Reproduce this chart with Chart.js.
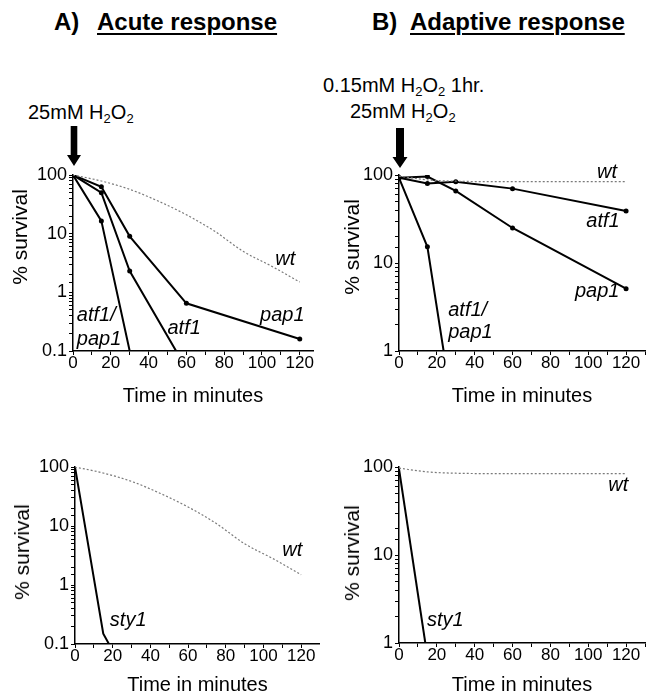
<!DOCTYPE html>
<html>
<head>
<meta charset="utf-8">
<script src="https://cdn.jsdelivr.net/npm/chart.js@4.4.1/dist/chart.umd.min.js"></script>
<style>
  body { margin: 0; background: #fff; font-family: "Liberation Sans", Arial, sans-serif; color: #000; }
  #page { position: relative; width: 647px; height: 698px; overflow: hidden; }
  canvas { position: absolute; }
  .txt { position: absolute; white-space: pre; }
  .ttl { font-weight: bold; font-size: 24px; line-height: 28px; }
  .ttl u { text-underline-offset: 3px; text-decoration-thickness: 2px; }
  .note { font-size: 20px; line-height: 24px; }
  .note sub { font-size: 13px; vertical-align: -4px; line-height: 0; }
  .ylab { font-size: 21px; line-height: 24px; transform: translate(-50%, -50%) rotate(-90deg); }
  svg { position: absolute; }
</style>
</head>
<body>
<div id="page">
  <canvas id="acuteTop" width="320" height="255" style="left:0;top:160px"></canvas>
  <canvas id="adaptTop" width="327" height="255" style="left:320px;top:160px"></canvas>
  <canvas id="acuteBottom" width="320" height="246" style="left:0;top:452px"></canvas>
  <canvas id="adaptBottom" width="327" height="246" style="left:320px;top:452px"></canvas>

  <div class="txt ttl" style="left:54px;top:8px">A)</div>
  <div class="txt ttl" style="left:97px;top:8px"><u>Acute response</u></div>
  <div class="txt ttl" style="left:372px;top:8px">B)</div>
  <div class="txt ttl" style="left:410px;top:8px"><u>Adaptive response</u></div>

  <div class="txt note" style="left:28px;top:100px">25mM H<sub>2</sub>O<sub>2</sub></div>
  <div class="txt note" style="left:323px;top:73px">0.15mM H<sub>2</sub>O<sub>2</sub> 1hr.</div>
  <div class="txt note" style="left:350px;top:99px">25mM H<sub>2</sub>O<sub>2</sub></div>

  <svg width="20" height="42" style="left:64px;top:126px"><path d="M6.7 0 H13.3 V29 H17 L10 40 L3 29 H6.7 Z" fill="#000"/></svg>
  <svg width="20" height="42" style="left:390px;top:128px"><path d="M6 0 H14 V29 H17.5 L10 40 L2.5 29 H6 Z" fill="#000"/></svg>

  <div class="txt ylab" style="left:20px;top:237px">% survival</div>
  <div class="txt ylab" style="left:352px;top:247px">% survival</div>
  <div class="txt ylab" style="left:22px;top:552px">% survival</div>
  <div class="txt ylab" style="left:352px;top:553px">% survival</div>
</div>
<script>
// tick labels
const timeTicks = [0, 20, 40, 60, 80, 100, 120];
const survivalTicksAcute = [0.1, 1, 10, 100];
const survivalTicksAdaptive = [1, 10, 100];

// A) acute response, % survival
const wtTimes = [0, 15, 30, 45, 60, 75, 90, 105, 120];
const wtAcute = [100, 79, 57, 36, 21, 11, 5, 2.8, 1.5];
const pap1AcuteTimes = [0, 15, 30, 60, 120];
const pap1Acute = [100, 63, 9, 0.65, 0.16];
const atf1AcuteTimes = [0, 15, 30, 60];
const atf1Acute = [100, 50, 2.3, 0.05];
const atf1pap1AcuteTimes = [0, 15, 30];
const atf1pap1Acute = [100, 16.5, 0.1];
const sty1AcuteTimes = [0, 15, 30];
const sty1Acute = [100, 0.15, 0.02];

// B) adaptive response, % survival
const adaptTimes = [0, 15, 30, 60, 120];
const pap1Adaptive = [93, 96, 66, 25, 5.1];
const atf1Adaptive = [93, 80, 84, 70, 39];
const atf1pap1AdaptiveTimes = [0, 15, 30];
const atf1pap1Adaptive = [93, 15.3, 0.13];
const wtAdaptiveTimes = [0, 15, 30, 60, 90, 120];
const wtAdaptive = [97, 88, 85, 84, 84, 84];
const sty1AdaptiveTimes = [0, 15];
const sty1Adaptive = [95, 0.7];

const FONT = '"Liberation Sans", Arial, sans-serif';

// italic strain names next to the curves
const curveLabels = {
  id: 'curveLabels',
  afterDatasetsDraw(chart, args, opts) {
    const { ctx, scales: { x, y } } = chart;
    ctx.save();
    ctx.font = 'italic 20px ' + FONT;
    ctx.fillStyle = '#000';
    ctx.textAlign = 'left';
    ctx.textBaseline = 'middle';
    (opts.items || []).forEach(it => {
      ctx.fillText(it.text, x.getPixelForValue(it.x), y.getPixelForValue(it.y));
    });
    ctx.restore();
  }
};

function series(times, values, dots) {
  return {
    data: times.map((t, i) => ({ x: t, y: values[i] })),
    borderColor: '#000',
    borderWidth: 2,
    backgroundColor: '#000',
    pointBorderWidth: 0,
    pointRadius: ctx => (dots && ctx.raw && ctx.raw.y > ctx.chart.scales.y.min) ? 2.5 : 0,
    tension: 0
  };
}

function wtSeries(times, values) {
  return {
    data: times.map((t, i) => ({ x: t, y: values[i] })),
    borderColor: '#7a7a7a',
    borderWidth: 1.2,
    borderDash: [2, 2],
    pointRadius: 0,
    cubicInterpolationMode: 'monotone'
  };
}

function isTick(list, v) {
  return list.some(t => Math.abs(v - t) < t * 1e-6);
}

function makePanel(id, p) {
  return new Chart(document.getElementById(id), {
    type: 'line',
    data: { datasets: p.datasets },
    options: {
      responsive: false,
      animation: false,
      events: [],
      layout: { padding: p.padding },
      plugins: {
        legend: { display: false },
        tooltip: { enabled: false },
        curveLabels: { items: p.labels }
      },
      scales: {
        x: {
          type: 'linear',
          min: 0,
          max: p.xMax,
          border: { color: '#000', width: 1.5 },
          grid: { drawOnChartArea: false, tickLength: 4, color: '#000', lineWidth: 1 },
          ticks: {
            stepSize: 10,
            includeBounds: false,
            autoSkip: false,
            maxRotation: 0,
            padding: 0,
            color: '#000',
            font: { family: FONT, size: 17, lineHeight: 1 },
            callback: v => isTick(timeTicks, v) || v === 0 ? String(v) : ''
          },
          title: {
            display: true,
            text: 'Time in minutes',
            color: '#000',
            font: { family: FONT, size: 20 },
            padding: { top: 0, bottom: p.titlePad }
          },
          afterFit: s => { s.height = p.xHeight; }
        },
        y: {
          type: 'logarithmic',
          min: p.yTicks[0],
          max: 100,
          border: { color: '#000', width: 1.5 },
          grid: { drawOnChartArea: false, tickLength: 4, color: '#000', lineWidth: 1 },
          ticks: {
            autoSkip: false,
            padding: 2,
            color: '#000',
            font: { family: FONT, size: 18 },
            callback: v => isTick(p.yTicks, v) ? String(v) : ''
          },
          afterFit: s => { s.width = p.yWidth; }
        }
      }
    },
    plugins: [curveLabels]
  });
}

makePanel('acuteTop', {
  xMax: 127, yTicks: survivalTicksAcute, yWidth: 73, xHeight: 64, titlePad: 7,
  padding: { top: 15, right: 7, left: 0, bottom: 0 },
  datasets: [
    wtSeries(wtTimes, wtAcute),
    series(pap1AcuteTimes, pap1Acute, true),
    series(atf1AcuteTimes, atf1Acute, true),
    series(atf1pap1AcuteTimes, atf1pap1Acute, true)
  ],
  labels: [
    { text: 'wt', x: 107, y: 3.6 },
    { text: 'pap1', x: 99, y: 0.4 },
    { text: 'atf1', x: 50, y: 0.24 },
    { text: 'atf1/', x: 2, y: 0.41 },
    { text: 'pap1', x: 2, y: 0.16 }
  ]
});

makePanel('adaptTop', {
  xMax: 130, yTicks: survivalTicksAdaptive, yWidth: 79, xHeight: 64, titlePad: 7,
  padding: { top: 15, right: 2, left: 0, bottom: 0 },
  datasets: [
    wtSeries(wtAdaptiveTimes, wtAdaptive),
    series(adaptTimes, pap1Adaptive, true),
    series(adaptTimes, atf1Adaptive, true),
    series(atf1pap1AdaptiveTimes, atf1pap1Adaptive, true)
  ],
  labels: [
    { text: 'wt', x: 104.6, y: 108 },
    { text: 'atf1', x: 99, y: 30 },
    { text: 'pap1', x: 93, y: 4.8 },
    { text: 'atf1/', x: 26, y: 2.9 },
    { text: 'pap1', x: 26, y: 1.64 }
  ]
});

makePanel('acuteBottom', {
  xMax: 130, yTicks: survivalTicksAcute, yWidth: 75, xHeight: 54, titlePad: 1,
  padding: { top: 15, right: 0, left: 0, bottom: 0 },
  datasets: [
    wtSeries(wtTimes, wtAcute),
    series(sty1AcuteTimes, sty1Acute, false)
  ],
  labels: [
    { text: 'wt', x: 110, y: 3.8 },
    { text: 'sty1', x: 18.5, y: 0.255 }
  ]
});

makePanel('adaptBottom', {
  xMax: 130, yTicks: survivalTicksAdaptive, yWidth: 79, xHeight: 55, titlePad: 1,
  padding: { top: 15, right: 2, left: 0, bottom: 0 },
  datasets: [
    wtSeries(wtAdaptiveTimes, wtAdaptive),
    series(sty1AdaptiveTimes, sty1Adaptive, false)
  ],
  labels: [
    { text: 'wt', x: 110.6, y: 62.5 },
    { text: 'sty1', x: 14.8, y: 1.82 }
  ]
});
</script>
</body>
</html>
